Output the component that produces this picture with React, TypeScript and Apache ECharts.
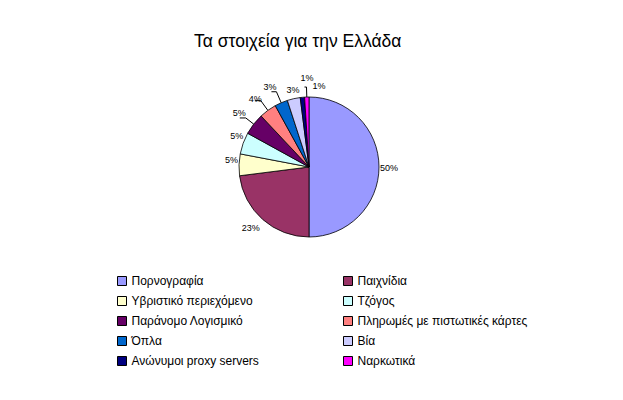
import React, { useEffect, useRef } from "react";
import * as echarts from "echarts";

const categories = [
  "Πορνογραφία",
  "Παιχνίδια",
  "Υβριστικό περιεχόμενο",
  "Τζόγος",
  "Παράνομο Λογισμικό",
  "Πληρωμές με πιστωτικές κάρτες",
  "Όπλα",
  "Βία",
  "Ανώνυμοι proxy servers",
  "Ναρκωτικά",
];
const values = [50, 23, 5, 5, 5, 4, 3, 3, 1, 1];
const colors = [
  "#9999FF",
  "#993366",
  "#FFFFCC",
  "#CCFFFF",
  "#660066",
  "#FF8080",
  "#0066CC",
  "#CCCCFF",
  "#000080",
  "#FF00FF",
];
const title = "Τα στοιχεία για την Ελλάδα";

// leader line style per slice: [show, length, length2]
const leaders: [boolean, number, number][] = [
  [false, 2, 2],
  [false, 6, 4],
  [false, 4, 2],
  [false, 4, 2],
  [true, 10, 6],
  [true, 12, 6],
  [true, 12, 5],
  [false, 6, 2],
  [false, 20, 0],
  [true, 10, 2],
];
// label nudges (Excel-like placement): [dx, dy]
const nudges: [number, number][] = [
  [-4, 1], [6, 4], [6, -5], [7, -6], [7, -5], [8, -2], [6, -5], [10, -3], [14, 1], [22, -1],
];

const FONT = "Arial, 'Liberation Sans', sans-serif";

export default function App() {
  const ref = useRef<HTMLDivElement>(null);
  useEffect(() => {
    document.body.style.margin = "0";
    const chart = echarts.init(ref.current!, null, { renderer: "svg" });
    const data = categories.map((name, i) => ({
      name,
      value: values[i],
      itemStyle: { color: colors[i] },
      labelLine: {
        show: leaders[i][0],
        length: leaders[i][1],
        length2: leaders[i][2],
      },
    }));
    const legendCommon = {
      orient: "vertical" as const,
      top: 270,
      itemWidth: 9,
      itemHeight: 9,
      itemGap: 8,
      icon: "rect",
      itemStyle: { borderColor: "#000", borderWidth: 1 },
      textStyle: { fontFamily: FONT, fontSize: 12, color: "#000" },
      selectedMode: false,
    };
    chart.setOption({
      animation: false,
      backgroundColor: "#fff",
      title: {
        text: title,
        left: 189,
        top: 27,
        textStyle: { fontFamily: FONT, fontSize: 17.5, fontWeight: "normal", color: "#000" },
      },
      legend: [
        { ...legendCommon, left: 112, data: categories.filter((_, i) => i % 2 === 0) },
        { ...legendCommon, left: 338, data: categories.filter((_, i) => i % 2 === 1) },
      ],
      series: [
        {
          type: "pie",
          center: [309, 167],
          radius: 70,
          startAngle: 90,
          clockwise: true,
          data,
          avoidLabelOverlap: false,
          itemStyle: { borderColor: "#000", borderWidth: 0.8 },
          label: {
            show: true,
            position: "outside",
            formatter: (p: any) => `${p.value}%`,
            fontFamily: FONT,
            fontSize: 9,
            color: "#000",
            distanceToLabelLine: 1,
          },
          labelLine: {
            show: true,
            lineStyle: { color: "#000", width: 1 },
          },
          labelLayout: (p: any) => {
            const [dx, dy] = nudges[p.dataIndex];
            return dx || dy ? { dx, dy } : {};
          },
          emphasis: { disabled: true },
        },
      ],
    });
    return () => chart.dispose();
  }, []);
  return <div ref={ref} style={{ width: 623, height: 400 }} />;
}
